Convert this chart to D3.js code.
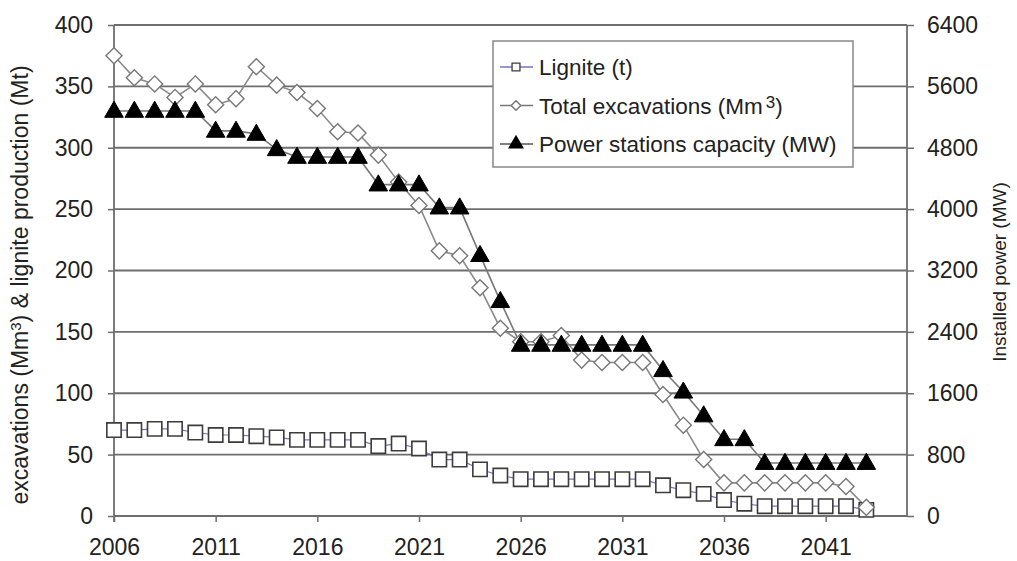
<!DOCTYPE html>
<html><head><meta charset="utf-8">
<script src="https://cdn.jsdelivr.net/npm/d3@7"></script>
<style>
body{margin:0;background:#fff;}
text{font-family:"Liberation Sans",Arial,sans-serif;fill:#222;}
</style></head>
<body><svg id="c" width="1017" height="561"></svg>
<script>
const years = [2006,2007,2008,2009,2010,2011,2012,2013,2014,2015,2016,2017,2018,2019,2020,2021,2022,2023,2024,2025,2026,2027,2028,2029,2030,2031,2032,2033,2034,2035,2036,2037,2038,2039,2040,2041,2042,2043];
const lignite = [70,70,71,71,68,66,66,65,64,62,62,62,62,57,59,55,46,46,38,33,30,30,30,30,30,30,30,25,21,18,13,10,8,8,8,8,8,5];
const excavations = [375,357,352,341,352,335,340,366,351,345,332,313,312,294,272,253,216,212,186,153,142,142,147,127,125,125,125,99,74,46,27,27,27,27,27,27,24,7];
const power = [5280,5280,5280,5280,5280,5020,5020,4980,4780,4680,4680,4680,4680,4320,4320,4320,4020,4020,3400,2800,2230,2230,2230,2230,2230,2230,2230,1900,1620,1310,1000,1000,690,690,690,690,690,690];
const xTicks = [2006,2011,2016,2021,2026,2031,2036,2041];
const leftTicks = [0,50,100,150,200,250,300,350,400];
const rightTicks = [0,800,1600,2400,3200,4000,4800,5600,6400];

const svg = d3.select("#c");
const L=114, R=907, T=25, B=516;
const x = d3.scaleLinear().domain([2006,2045]).range([L,R]);
const yL = d3.scaleLinear().domain([0,400]).range([B,T]);
const yR = d3.scaleLinear().domain([0,6400]).range([B,T]);

// gridlines
svg.append("g").selectAll("line").data(leftTicks).join("line")
  .attr("x1",L).attr("x2",R).attr("y1",d=>yL(d)).attr("y2",d=>yL(d))
  .attr("stroke","#6e6e6e").attr("stroke-width",1.8);

// axes
const axL = svg.append("g").attr("transform",`translate(${L},0)`)
  .call(d3.axisLeft(yL).tickValues(leftTicks).tickSize(6).tickPadding(15));
const axR = svg.append("g").attr("transform",`translate(${R},0)`)
  .call(d3.axisRight(yR).tickValues(rightTicks).tickFormat(d3.format("d")).tickSize(7).tickPadding(13));
const axB = svg.append("g").attr("transform",`translate(0,${B})`)
  .call(d3.axisBottom(x).tickValues(xTicks).tickFormat(d3.format("d")).tickSize(6).tickPadding(17));
[axL,axR,axB].forEach(a=>{
  a.selectAll("path.domain").attr("stroke","#6e6e6e").attr("stroke-width",1.8);
  a.selectAll(".tick line").attr("stroke","#6e6e6e").attr("stroke-width",1.5);
  a.selectAll("text").style("font-size","23px").style("fill","#222");
});
axL.select("path.domain").attr("d",`M-0,${T}V${B+6}`);
axR.select("path.domain").attr("d",`M0,${T}V${B}`);
axB.select("path.domain").attr("d",`M${L},0H${R}`);

// series
const line = (ys,scale)=>d3.line().x((d,i)=>x(years[i])).y(d=>scale(d))(ys);
svg.append("path").attr("d",line(lignite,yL)).attr("fill","none").attr("stroke","#7474c8").attr("stroke-width",1.2);
svg.append("path").attr("d",line(excavations,yL)).attr("fill","none").attr("stroke","#8a8a8a").attr("stroke-width",1.6);
svg.append("path").attr("d",line(power,yR)).attr("fill","none").attr("stroke","#777").attr("stroke-width",1.6);

const sq = d3.symbol().type(d3.symbolSquare).size(205);
const dm = d3.symbol().type(d3.symbolDiamond2).size(165);
const tr = d3.symbol().type(d3.symbolTriangle).size(150);

svg.append("g").selectAll("path").data(lignite).join("path")
  .attr("d",sq).attr("transform",(d,i)=>`translate(${x(years[i])},${yL(d)})`)
  .attr("fill","#fff").attr("stroke","#3c3c3c").attr("stroke-width",1.6);
svg.append("g").selectAll("path").data(excavations).join("path")
  .attr("d",dm).attr("transform",(d,i)=>`translate(${x(years[i])},${yL(d)})`)
  .attr("fill","#fff").attr("stroke","#777").attr("stroke-width",1.4);
svg.append("g").selectAll("path").data(power).join("path")
  .attr("d",tr).attr("transform",(d,i)=>`translate(${x(years[i])},${yR(d)+1})`)
  .attr("fill","#000").attr("stroke","#000").attr("stroke-width",1);

// legend
const lg = svg.append("g");
lg.append("rect").attr("x",493).attr("y",41).attr("width",360).attr("height",126)
  .attr("fill","#fff").attr("stroke","#888").attr("stroke-width",1.5);
const rows = [
  {y:75, sym:sq, fill:"#fff", stroke:"#3c3c3c", lc:"#7474c8", sz:0.55},
  {y:113.5, sym:dm, fill:"#fff", stroke:"#777", lc:"#777", sz:0.6},
  {y:152, sym:tr, fill:"#000", stroke:"#000", lc:"#555", sz:0.7}
];
rows.forEach((r,i)=>{
  const cy = r.y-8;
  lg.append("line").attr("x1",500).attr("x2",533).attr("y1",cy).attr("y2",cy).attr("stroke",r.lc).attr("stroke-width",1.3);
  lg.append("path").attr("d",r.sym).attr("transform",`translate(516,${cy}) scale(${r.sz})`)
    .attr("fill",r.fill).attr("stroke",r.stroke).attr("stroke-width",2.4);
});
const lt = (y)=>lg.append("text").attr("x",539).attr("y",y).style("font-size","22.5px");
lt(75).text("Lignite (t)");
const t2 = lt(113.5); t2.append("tspan").text("Total excavations (Mm");
t2.append("tspan").attr("dx",3).attr("dy",-6).style("font-size","17px").text("3");
t2.append("tspan").attr("dy",6).text(")");
lt(152).text("Power stations capacity (MW)");

// axis titles
const yt = svg.append("text").attr("transform","translate(28,285) rotate(-90)").attr("text-anchor","middle").style("font-size","23px");
yt.append("tspan").text("excavations (Mm");
yt.append("tspan").attr("dy",-7).style("font-size","15px").text("3");
yt.append("tspan").attr("dy",7).text(") & lignite production (Mt)");
svg.append("text").attr("transform","translate(1006,272) rotate(-90)").attr("text-anchor","middle").style("font-size","19px").text("Installed power (MW)");
</script></body></html>
